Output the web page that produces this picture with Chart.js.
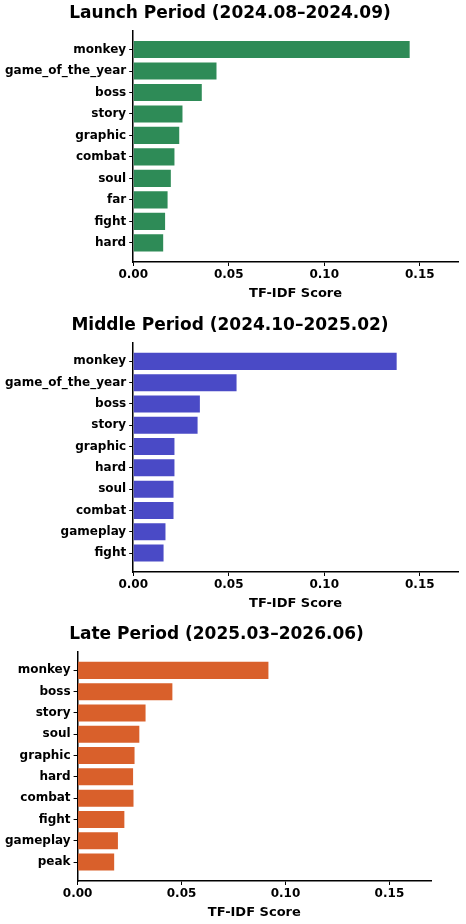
<!DOCTYPE html>
<html>
<head>
<meta charset="utf-8">
<script src="https://cdn.jsdelivr.net/npm/chart.js@4"></script>
<style>
  body { margin: 0; width: 466px; height: 924px; overflow: hidden; background: #fff; position: relative; }
  .box { position: absolute; left: 0; }
</style>
</head>
<body>
<div class="box" id="b1" style="top:0px;width:590px;height:303px"><canvas id="c1"></canvas></div>
<div class="box" id="b2" style="top:312px;width:590px;height:301px"><canvas id="c2"></canvas></div>
<div class="box" id="b3" style="top:621px;width:537px;height:301px"><canvas id="c3"></canvas></div>
<script>
const launchTerms = ["monkey", "game_of_the_year", "boss", "story", "graphic", "combat", "soul", "far", "fight", "hard"];
const launchScores = [0.1447, 0.0436, 0.0359, 0.0258, 0.0241, 0.0216, 0.0197, 0.0180, 0.0167, 0.0157];

const middleTerms = ["monkey", "game_of_the_year", "boss", "story", "graphic", "hard", "soul", "combat", "gameplay", "fight"];
const middleScores = [0.1379, 0.0541, 0.0349, 0.0337, 0.0216, 0.0216, 0.0211, 0.0211, 0.0169, 0.0159];

const lateTerms = ["monkey", "boss", "story", "soul", "graphic", "hard", "combat", "fight", "gameplay", "peak"];
const lateScores = [0.0918, 0.0456, 0.0327, 0.0297, 0.0274, 0.0267, 0.0269, 0.0225, 0.0194, 0.0176];

const xTicks = [0, 0.05, 0.10, 0.15];

Chart.defaults.font.family = "'DejaVu Sans', sans-serif";
Chart.defaults.color = "#000";
Chart.defaults.animation = false;

// one horizontal bar panel
function makeChart(id, title, terms, scores, color, rightPad) {
    new Chart(document.getElementById(id), {
        type: "bar",
        data: {
            datasets: [{
                data: scores.map((v, i) => ({ x: v, y: i })),
                backgroundColor: color,
                barPercentage: 0.8,
                categoryPercentage: 1
            }]
        },
        options: {
            indexAxis: "y",
            responsive: true,
            maintainAspectRatio: false,
            layout: { padding: { left: 2, right: rightPad, top: 0, bottom: 2 } },
            plugins: {
                legend: { display: false },
                tooltip: { enabled: false },
                title: {
                    display: true, text: title,
                    font: { size: 17, weight: "bold" },
                    padding: { top: 3, bottom: 7 }
                }
            },
            scales: {
                x: {
                    type: "linear", min: 0, max: 0.17,
                    afterBuildTicks: s => { s.ticks = xTicks.map(v => ({ value: v })); },
                    ticks: { font: { size: 12, weight: "bold" }, callback: v => v.toFixed(2), padding: 2, maxRotation: 0 },
                    grid: { drawOnChartArea: false, tickLength: 4, color: "#000" },
                    border: { color: "#000", width: 1.5 },
                    title: { display: true, text: "TF-IDF Score", font: { size: 13, weight: "bold" }, padding: { top: 1, bottom: 0 } }
                },
                y: {
                    type: "linear", reverse: true, min: -0.89, max: 9.89, offset: false,
                    afterBuildTicks: s => { s.ticks = terms.map((t, i) => ({ value: i })); },
                    ticks: { font: { size: 12, weight: "bold" }, callback: v => terms[v], padding: 3, autoSkip: false },
                    grid: { drawOnChartArea: false, offset: false, tickLength: 4, color: "#000" },
                    border: { color: "#000", width: 1.5 }
                }
            }
        }
    });
}

makeChart("c1", "Launch Period (2024.08\u20132024.09)", launchTerms, launchScores, "#2E8B57", 132);
makeChart("c2", "Middle Period (2024.10\u20132025.02)", middleTerms, middleScores, "#4A4AC6", 132);
makeChart("c3", "Late Period (2025.03\u20132026.06)", lateTerms, lateScores, "#D9602B", 106);
</script>
</body>
</html>
